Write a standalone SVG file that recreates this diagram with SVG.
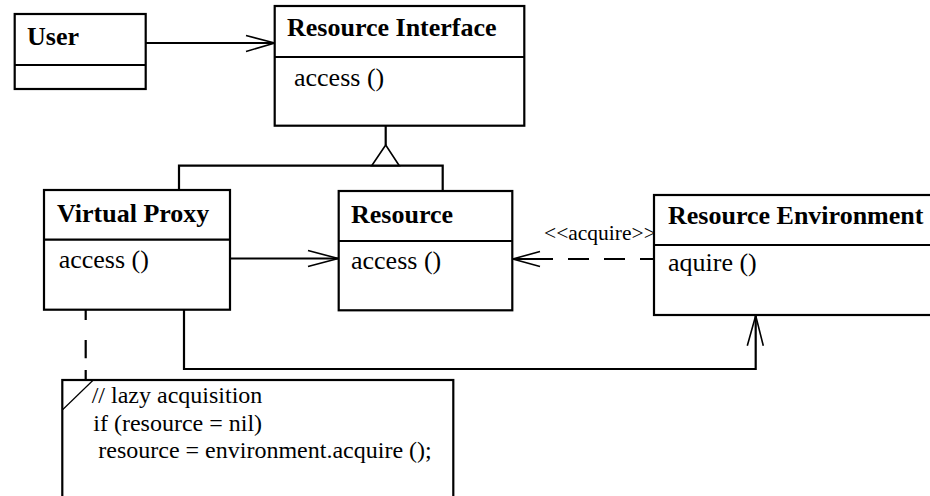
<svg xmlns="http://www.w3.org/2000/svg" width="930" height="496" viewBox="0 0 930 496">
<style>
.box{fill:#fff;stroke:#000;stroke-width:2.2}
.ln{fill:none;stroke:#000;stroke-width:2.2}
.hd{fill:none;stroke:#000;stroke-width:1.6}
.t{font-family:"Liberation Serif","Times New Roman",serif;font-size:26px;fill:#000}
.b{font-weight:bold}
.n{font-family:"Liberation Serif","Times New Roman",serif;font-size:24px;fill:#000}
.s{font-family:"Liberation Serif","Times New Roman",serif;font-size:21.5px;fill:#000}
</style>
<rect width="930" height="496" fill="#fff"/>
<g id="connectors">
  <line class="ln" x1="146" y1="43" x2="274.7" y2="43"/>
  <polyline class="hd" points="246,35.5 274.7,43 246,51.5"/>
  <line class="ln" x1="385.7" y1="125.7" x2="385.7" y2="145"/>
  <polygon class="hd" points="385.7,145 371.7,165.7 399.3,165.7" style="fill:#fff"/>
  <polyline class="ln" points="179,190 179,165.7 442.7,165.7 442.7,191"/>
  <line class="ln" x1="230" y1="258.5" x2="338.7" y2="258.5"/>
  <polyline class="hd" points="308,250.5 338.2,258.5 308,266.5"/>
  <line class="ln" x1="512.3" y1="259" x2="553" y2="259"/>
  <line class="ln" x1="553" y1="259" x2="654" y2="259" stroke-dasharray="21 15" stroke-dashoffset="21"/>
  <polyline class="hd" points="540,251.5 512.8,259 540,266.5"/>
  <text class="s" x="544" y="239.5">&lt;&lt;acquire&gt;&gt;</text>
  <polyline class="ln" points="184,310 184,369 755.7,369 755.7,315"/>
  <polyline class="hd" points="747.3,345.7 755.7,315.5 763.3,345.7"/>
  <line class="ln" x1="85.7" y1="275" x2="85.7" y2="380" stroke-dasharray="11.7 13.3 20 20 18.3 11.7 10"/>
</g>
<g id="user">
  <rect class="box" x="14.7" y="14" width="131" height="75"/>
  <line class="ln" x1="14.7" y1="65" x2="145.7" y2="65"/>
  <text class="t b" x="27" y="45">User</text>
</g>
<g id="resource-interface">
  <rect class="box" x="274.7" y="6" width="249.6" height="119.7"/>
  <line class="ln" x1="274.7" y1="57" x2="524.3" y2="57"/>
  <text class="t b" x="287" y="36">Resource Interface</text>
  <text class="t" x="294" y="86">access ()</text>
</g>
<g id="virtual-proxy">
  <rect class="box" x="44" y="190" width="186" height="119.7"/>
  <line class="ln" x1="44" y1="239.7" x2="230" y2="239.7"/>
  <text class="t b" x="57" y="221.7">Virtual Proxy</text>
  <text class="t" x="58.7" y="267.7">access ()</text>
</g>
<g id="resource">
  <rect class="box" x="338.7" y="191" width="173.6" height="119.3"/>
  <line class="ln" x1="338.7" y1="241" x2="512.3" y2="241"/>
  <text class="t b" x="351" y="222.7">Resource</text>
  <text class="t" x="351" y="269">access ()</text>
</g>
<g id="resource-environment">
  <rect class="box" x="654" y="195" width="300" height="120"/>
  <line class="ln" x1="654" y1="245" x2="954" y2="245"/>
  <text class="t b" x="668" y="224">Resource Environment</text>
  <text class="t" x="668" y="270.7">aquire ()</text>
</g>
<g id="note">
  <rect class="box" x="62.3" y="380" width="391" height="140"/>
  <line x1="62.3" y1="410" x2="93.3" y2="380" stroke="#000" stroke-width="1.2"/>
  <text class="n" x="91.7" y="403.3">// lazy acquisition</text>
  <text class="n" x="93.3" y="430.7">if (resource = nil)</text>
  <text class="n" x="98.3" y="458.3">resource = environment.acquire ();</text>
</g>
</svg>
